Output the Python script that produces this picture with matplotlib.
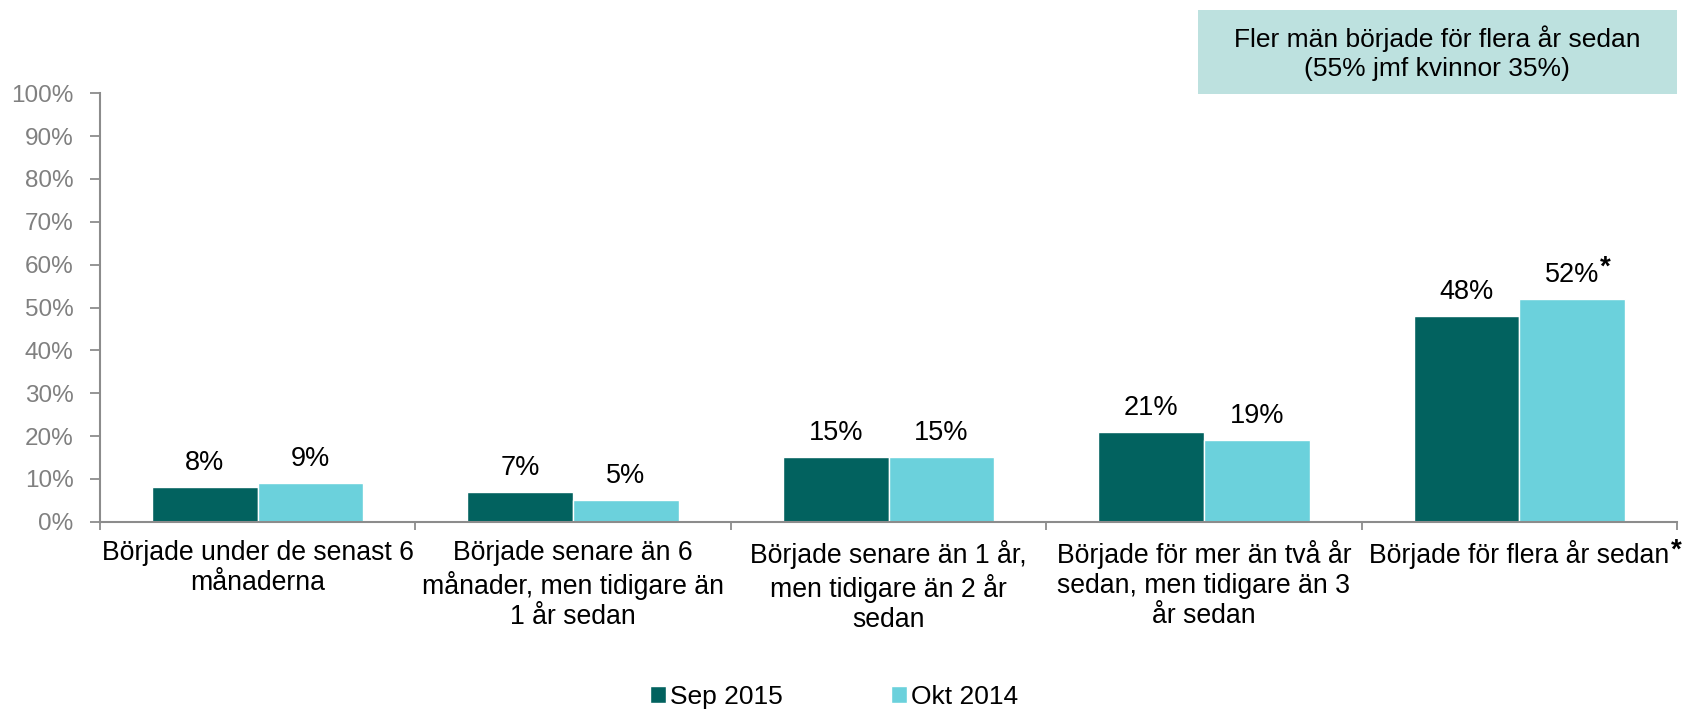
import matplotlib
matplotlib.use("Agg")
import matplotlib.pyplot as plt
from matplotlib.patches import Rectangle
import numpy as np

plt.rcParams['font.family'] = ['Liberation Sans', 'DejaVu Sans']

categories = [
    "Började under de senast 6\nmånaderna",
    "Började senare än 6\nmånader, men tidigare än\n1 år sedan",
    "Började senare än 1 år,\nmen tidigare än 2 år\nsedan",
    "Började för mer än två år\nsedan, men tidigare än 3\når sedan",
    "Började för flera år sedan",
]
category_star = [False, False, False, False, True]
series_names = ["Sep 2015", "Okt 2014"]
sep2015 = [8, 7, 15, 21, 48]
okt2014 = [9, 5, 15, 19, 52]
labels_sep = ["8%", "7%", "15%", "21%", "48%"]
labels_okt = ["9%", "5%", "15%", "19%", "52%"]
star_okt = [False, False, False, False, True]
yticks = [0, 10, 20, 30, 40, 50, 60, 70, 80, 90, 100]
ytick_labels = ["0%", "10%", "20%", "30%", "40%", "50%", "60%", "70%", "80%", "90%", "100%"]
box_text = "Fler män började för flera år sedan\n(55% jmf kvinnor 35%)"

c_dark = "#02625F"
c_light = "#6BD1DC"
c_box = "#BDE1DF"
c_axis = "#8C8C8C"

W, H = 1682, 711
fig = plt.figure(figsize=(W / 100, H / 100), dpi=100)
ax = fig.add_axes([100 / W, 1 - 521.7 / H, (1677 - 100) / W, (521.7 - 93.3) / H])

x = np.arange(len(categories))
bw = 0.335
b1 = ax.bar(x - bw / 2, sep2015, bw, color=c_dark, edgecolor="white", linewidth=1, label=series_names[0])
b2 = ax.bar(x + bw / 2, okt2014, bw, color=c_light, edgecolor="white", linewidth=1, label=series_names[1])

star_targets = []
for rect, lab in zip(b1, labels_sep):
    ax.annotate(lab, (rect.get_x() + rect.get_width() / 2, rect.get_height()),
                xytext=(0, 8), textcoords="offset points", ha="center", va="bottom",
                fontsize=19.5, color="black")
for rect, lab, st in zip(b2, labels_okt, star_okt):
    t = ax.annotate(lab, (rect.get_x() + rect.get_width() / 2, rect.get_height()),
                    xytext=(0, 8), textcoords="offset points", ha="center", va="bottom",
                    fontsize=19.5, color="black")
    if st:
        star_targets.append((t, 7))

ax.set_xlim(-0.5, len(categories) - 0.5)
ax.set_ylim(0, 100)
ax.set_yticks(yticks)
ax.set_yticklabels(ytick_labels, fontsize=17.5, color="#808080")
ax.tick_params(axis="y", direction="out", length=7, width=1.3, color=c_axis, pad=12)

ax.set_xticks(x)
ax.set_xticklabels(categories, fontsize=19.2, color="black", linespacing=1.2)
ax.tick_params(axis="x", which="major", length=0, pad=13.5)
ax.set_xticks(np.arange(-0.5, len(categories), 1.0), minor=True)
ax.tick_params(axis="x", which="minor", direction="out", length=5.5, width=1.3, color=c_axis)

for s in ["top", "right"]:
    ax.spines[s].set_visible(False)
for s in ["left", "bottom"]:
    ax.spines[s].set_color(c_axis)
    ax.spines[s].set_linewidth(1.5)

# annotation box
fig.patches.append(Rectangle((1198 / W, 1 - 94 / H), (1677 - 1198) / W, 84 / H,
                             transform=fig.transFigure, facecolor=c_box, edgecolor="none"))
fig.text(1437 / W, 1 - 53 / H, box_text, ha="center", va="center", fontsize=19,
         color="black", linespacing=1.25)

fig.legend(handles=[b1, b2], labels=series_names, loc="center",
           bbox_to_anchor=(834 / W, 1 - 697 / H), ncol=2, frameon=False,
           fontsize=19, handlelength=0.6, handleheight=0.6, handletextpad=0.15,
           columnspacing=4.1, borderpad=0, borderaxespad=0)

# superscript asterisks
fig.canvas.draw()
for lbl, st in zip(ax.get_xticklabels(), category_star):
    if st:
        star_targets.append((lbl, 3))
for t, raise_px in star_targets:
    bb = t.get_window_extent()
    fig.text((bb.x1 + 1) / W, (bb.y1 + raise_px) / H, "*", ha="left", va="top",
             fontsize=20, fontweight="bold", color="black")

fig.savefig("out.png", dpi=100)
